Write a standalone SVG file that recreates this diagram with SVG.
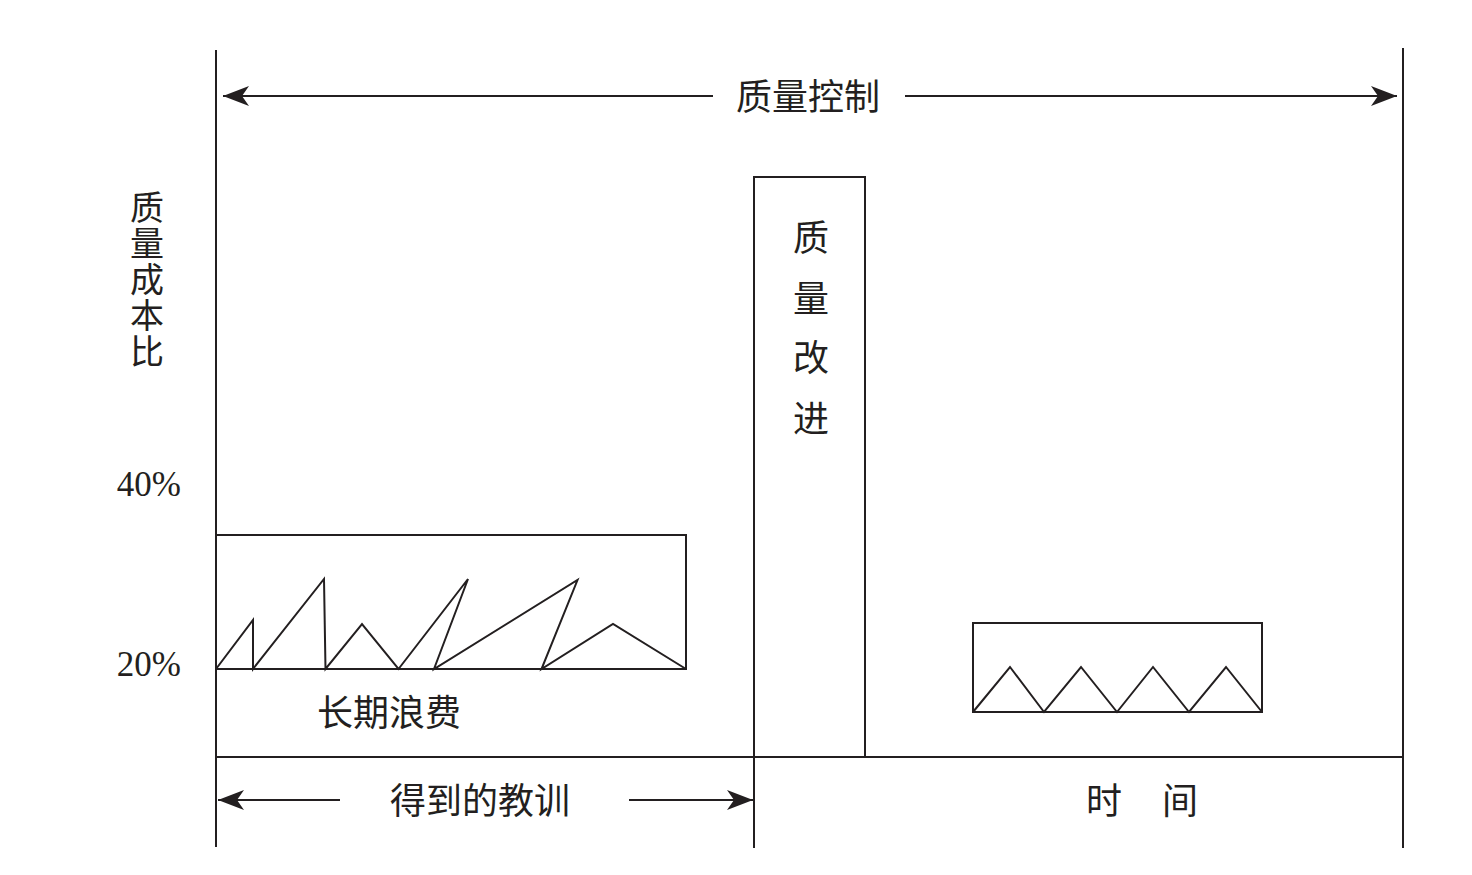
<svg xmlns="http://www.w3.org/2000/svg" width="1472" height="875" viewBox="0 0 1472 875">
<style>
.ln{stroke:#231f20;stroke-width:2;fill:none}
.cjk{font-family:"Noto Sans CJK SC","Noto Sans CJK JP",sans-serif;font-size:36px;fill:#231f20}
.vcjk{font-family:"Noto Sans CJK SC","Noto Sans CJK JP",sans-serif;font-size:34px;fill:#231f20;writing-mode:vertical-rl;letter-spacing:2px}
.num{font-family:"Liberation Serif",serif;font-size:35px;fill:#231f20}
</style>
<defs>
<marker id="ah" markerUnits="userSpaceOnUse" markerWidth="28" markerHeight="22" refX="26" refY="11" orient="auto">
<path d="M0,1 L26,11 L0,21 L7,11 z" fill="#231f20"/>
</marker>
</defs>
<rect width="1472" height="875" fill="#fff"/>
<g id="frame">
<line class="ln" x1="216" y1="50" x2="216" y2="847"/>
<line class="ln" x1="1403" y1="48" x2="1403" y2="848"/>
<line class="ln" x1="216" y1="757" x2="1403" y2="757"/>
<line class="ln" x1="754" y1="757" x2="754" y2="848"/>
</g>
<g id="quality-control">
<text class="cjk" x="808" y="110" text-anchor="middle">质量控制</text>
</g>
<g id="y-axis-label">
<text class="vcjk" x="147" y="190">质量成本比</text>
<text class="num" x="181" y="496" text-anchor="end">40%</text>
<text class="num" x="181" y="676" text-anchor="end">20%</text>
</g>
<g id="chronic-waste">
<rect class="ln" x="216" y="535" width="470" height="134"/>
<polyline class="ln" points="216,669 253,620 253,669 324,579 325.5,669 362,624 398.5,669 468,579 434,669 577.5,580 541.5,669 613,624 686,669"/>
<text class="cjk" x="389" y="726" text-anchor="middle">长期浪费</text>
</g>
<g id="quality-improvement">
<rect class="ln" x="754" y="177" width="111" height="580"/>
<text class="cjk" x="811" y="251" text-anchor="middle">质</text>
<text class="cjk" x="811" y="312" text-anchor="middle">量</text>
<text class="cjk" x="811" y="371" text-anchor="middle">改</text>
<text class="cjk" x="811" y="432" text-anchor="middle">进</text>
</g>
<g id="new-level">
<rect class="ln" x="973" y="623" width="289" height="89"/>
<polyline class="ln" points="973,712 1010,667 1044,712 1081,667 1117,712 1153,667 1189,712 1226,667 1262,712"/>
</g>
<g id="lessons">
<text class="cjk" x="480" y="814" text-anchor="middle">得到的教训</text>
</g>
<g id="time">
<text class="cjk" x="1104" y="814" text-anchor="middle">时</text>
<text class="cjk" x="1180" y="814" text-anchor="middle">间</text>
</g>
<g id="connectors">
<line class="ln" x1="713" y1="96" x2="223" y2="96" marker-end="url(#ah)"/>
<line class="ln" x1="905" y1="96" x2="1397" y2="96" marker-end="url(#ah)"/>
<line class="ln" x1="340" y1="800" x2="218" y2="800" marker-end="url(#ah)"/>
<line class="ln" x1="629" y1="800" x2="753" y2="800" marker-end="url(#ah)"/>
</g>
</svg>
